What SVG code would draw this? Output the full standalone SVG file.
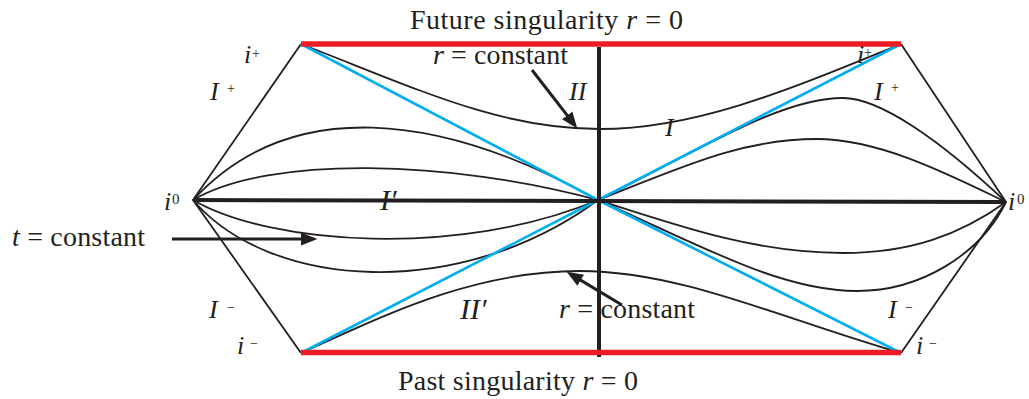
<svg xmlns="http://www.w3.org/2000/svg" width="1029" height="399" viewBox="0 0 1029 399">
<style>
.thin{fill:none;stroke:#231f20;stroke-width:1.8;stroke-linejoin:round}
.thick{fill:none;stroke:#231f20;stroke-width:4}
.sing{fill:none;stroke:#ed1c24;stroke-width:5.5}
.hor{fill:none;stroke:#00aeef;stroke-width:2.6}
.arr{fill:none;stroke:#231f20;stroke-width:3}
text{font-family:"Liberation Serif","Times New Roman",serif;fill:#231f20}
.cap{font-size:28px}
.lab{font-size:26px}
.it{font-style:italic}
.sup{font-size:14px;font-style:normal}
</style>
<defs>
<marker id="ah" markerUnits="userSpaceOnUse" markerWidth="17" markerHeight="14" viewBox="0 0 17 14" refX="8" refY="7" orient="auto">
<path d="M0,0.5 L16.5,7 L0,13.5 z" fill="#231f20"/>
</marker>
</defs>
<rect width="1029" height="399" fill="#ffffff"/>
<g id="connectors">
<g id="boundary">
<path class="thin" d="M301,44 L193,200 L301,353"/>
<path class="thin" d="M901,44 L1006,202 L901,353"/>
</g>
<g id="t-constant-curves">
<path class="thin" d="M193,200 C290,95 440,112 598,200"/>
<path class="thin" d="M193,200 C270,155 450,160 598,200"/>
<path class="thin" d="M193,200 C270,245 460,258 598,200"/>
<path class="thin" d="M193,200 C270,290 460,302 598,200"/>
<path class="thin" d="M598,200 C700,150 780,98 843,98 C880,98 940,140 1006,202"/>
<path class="thin" d="M598,200 C680,168 740,139 817,139 C880,139 950,175 1006,202"/>
<path class="thin" d="M598,200 C690,230 760,253 843,253 C910,253 960,235 1006,202"/>
<path class="thin" d="M598,200 C700,245 780,291 857,291 C920,291 980,255 1006,202"/>
</g>
<g id="r-constant-curves">
<path class="thin" d="M301,44 C420,90 500,129 600,129 C700,129 800,85 901,44"/>
<path class="thin" d="M301,353 C380,318 470,271 580,271 C680,271 780,318 901,353"/>
</g>
<g id="horizons">
<path class="hor" d="M301,44 L598,200 L901,353"/>
<path class="hor" d="M901,44 L598,200 L301,353"/>
</g>
<g id="axes">
<path class="thick" d="M193,200 L1006,202"/>
<path class="thick" d="M599,47 L599,357"/>
</g>
<g id="singularities">
<path class="sing" d="M301,44 L901,44"/>
<path class="sing" d="M301,352.5 L901,352.5"/>
</g>
<g id="arrows">
<path class="arr" d="M532,70 L572.1,121.7" marker-end="url(#ah)"/>
<path class="arr" d="M172,239 L309,239" marker-end="url(#ah)"/>
<path class="arr" d="M622,305 L573.9,276.1" marker-end="url(#ah)"/>
</g>
</g>
<g id="label-future">
<text class="cap" x="410" y="29" textLength="273">Future singularity <tspan class="it">r</tspan> = 0</text>
</g>
<g id="label-past">
<text class="cap" x="398" y="390" textLength="240">Past singularity <tspan class="it">r</tspan> = 0</text>
</g>
<g id="label-r-upper">
<text class="cap" x="433" y="64" textLength="135"><tspan class="it">r</tspan> = constant</text>
</g>
<g id="label-r-lower">
<text class="cap" x="559" y="318" textLength="136"><tspan class="it">r</tspan> = constant</text>
</g>
<g id="label-t">
<text class="cap" x="12" y="246" textLength="133"><tspan class="it">t</tspan> = constant</text>
</g>
<g id="region-II"><text class="lab it" x="569" y="100">II</text></g>
<g id="region-I"><text class="lab it" x="665" y="136">I</text></g>
<g id="region-I-prime"><text class="it" font-size="30" x="380" y="210">I′</text></g>
<g id="region-II-prime"><text class="it" font-size="30" x="460" y="319">II′</text></g>
<g id="left-i-plus"><text class="lab it" x="244" y="63">i</text><text class="sup" x="252" y="58">+</text></g>
<g id="left-scri-plus"><text class="lab it" x="210" y="100">I</text><text class="sup" x="227" y="93">+</text></g>
<g id="right-i-plus"><text class="lab it" x="857" y="63">i</text><text class="sup" x="864" y="57">+</text></g>
<g id="right-scri-plus"><text class="lab it" x="874" y="100">I</text><text class="sup" x="891" y="92">+</text></g>
<g id="left-i-zero"><text class="lab it" x="164" y="210">i</text><text font-size="15" x="172" y="204">0</text></g>
<g id="right-i-zero"><text class="lab it" x="1008" y="210">i</text><text font-size="15" x="1017" y="204">0</text></g>
<g id="left-scri-minus"><text class="lab it" x="209" y="318">I</text><text class="sup" x="227" y="312">−</text></g>
<g id="left-i-minus"><text class="lab it" x="237" y="354">i</text><text class="sup" x="250" y="348">−</text></g>
<g id="right-scri-minus"><text class="lab it" x="888" y="318">I</text><text class="sup" x="905" y="312">−</text></g>
<g id="right-i-minus"><text class="lab it" x="916" y="354">i</text><text class="sup" x="929" y="348">−</text></g>
</svg>
